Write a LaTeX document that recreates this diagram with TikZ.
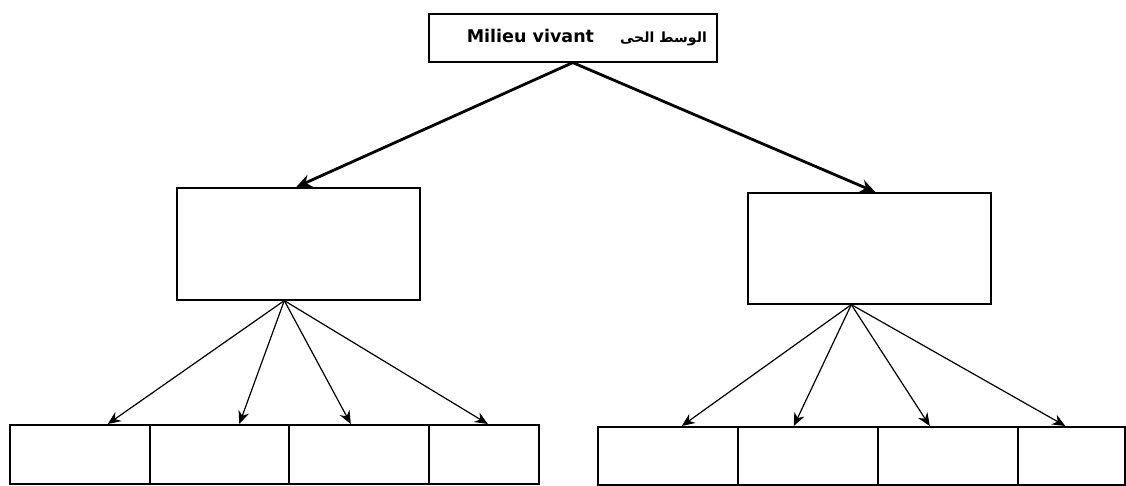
\documentclass[tikz,border=0pt]{standalone}
\usepackage{fontspec}
\setmainfont{DejaVu Sans}
\newfontfamily\arabicfont[Script=Arabic,Scale=0.8]{DejaVu Sans}
\TeXXeTstate=1
\usetikzlibrary{arrows.meta}

\begin{document}
\begin{tikzpicture}[
					x=1pt, y=-1pt,
					box/.style={draw, line width=1.6pt, anchor=north west, inner sep=0pt},
					main arrow/.style={-{Stealth[length=15pt,width=13pt]}, line width=2.8pt},
					sub arrow/.style={-{Stealth[length=13pt,width=11pt]}, line width=1.2pt},
				]
					\useasboundingbox (0,0) rectangle (1126,485);
					
					\node[box, minimum width=288pt, minimum height=48pt, font=\bfseries\fontsize{17.5}{20}\selectfont] (milieu) at (428,13)
						{\hspace{28pt}Milieu vivant\hspace{26pt}{\arabicfont\beginR الوسط الحى\endR}};
					
					\node[box, minimum width=243pt, minimum height=112pt] (left) at (176,187) {};
					\node[box, minimum width=243pt, minimum height=111pt] (right) at (747,192) {};
					
					\foreach \x/\w [count=\i] in {9/140, 149/139, 288/140, 428/110}
						\node[box, minimum width=\w pt, minimum height=59pt] (left\i) at (\x,424) {};
					\foreach \x/\w [count=\i] in {597/140, 737/140, 877/140, 1017/107}
						\node[box, minimum width=\w pt, minimum height=58pt] (right\i) at (\x,426) {};
					
					\draw[main arrow] (milieu.south) -- ([xshift=-2pt]left.north);
					\draw[main arrow] (milieu.south) -- ([xshift=6pt]right.north);
					
					\foreach \i/\s in {1/28, 2/20, 3/-8, 4/4}
						\draw[sub arrow] ([xshift=-14pt]left.south) -- ([xshift=\s pt]left\i.north);
					\foreach \i/\s in {1/14, 2/-14, 3/-18, 4/-6}
						\draw[sub arrow] ([xshift=-18pt]right.south) -- ([xshift=\s pt]right\i.north);
				\end{tikzpicture}
\end{document}
